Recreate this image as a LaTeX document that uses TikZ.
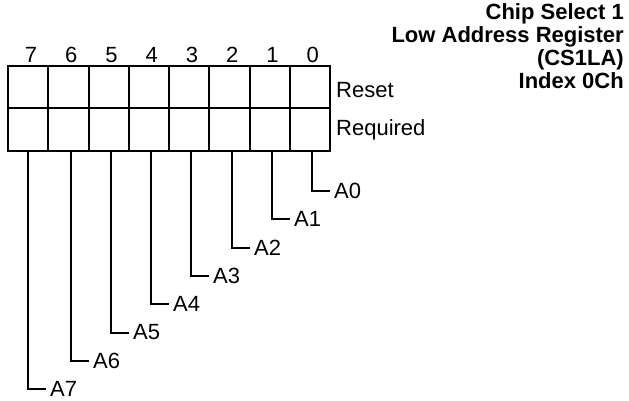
\documentclass[tikz,border=0pt]{standalone}
\usepackage{fontspec}
\setmainfont{Liberation Sans}
\tikzset{
  RegLine/.style={line width=2pt},
  LeadLabel/.style={anchor=west, inner sep=4.5pt},
}

\begin{document}
\begin{tikzpicture}[x=1pt, y=-1pt, font=\fontsize{22}{23}\selectfont]
    \useasboundingbox (0,0) rectangle (629,401);

    \coordinate (NW) at (8, 66);
    \coordinate (SE) at (330, 151);

    % Registro de 8 bits, dos filas.
    \draw[line width=2.6pt] (NW) rectangle (SE);
    \draw[RegLine] (8, 108) -- (330, 108);
    \foreach \i in {1,...,7}
        \draw[RegLine] ({8+40.25*\i}, 66) -- ({8+40.25*\i}, 151);

    \foreach \b in {0,...,7}
        \node (Bit\b) at ({31+40.25*(7-\b)}, 55) {\b};

    \node[anchor=west, inner sep=0pt] (Reset) at (336, 90) {Reset};
    \node[anchor=west, inner sep=0pt] (Required) at (336, 130) {Required};

    \node[anchor=north east, align=right, inner sep=0pt, font=\fontsize{22}{23}\selectfont\bfseries]
        (Title) at (624, 3) {Chip Select 1\\Low Address Register\\(CS1LA)\\Index 0Ch};

    \foreach \b/\x in {0/312, 1/272, 2/232, 3/191, 4/151, 5/111, 6/71, 7/28} {
        \coordinate (P\b) at (\x, 151);
        \node[LeadLabel] (A\b) at ({\x+17.5}, {191+28.3*\b}) {A\b};
        \draw[RegLine] (P\b) |- (A\b.west);
    }
\end{tikzpicture}
\end{document}
